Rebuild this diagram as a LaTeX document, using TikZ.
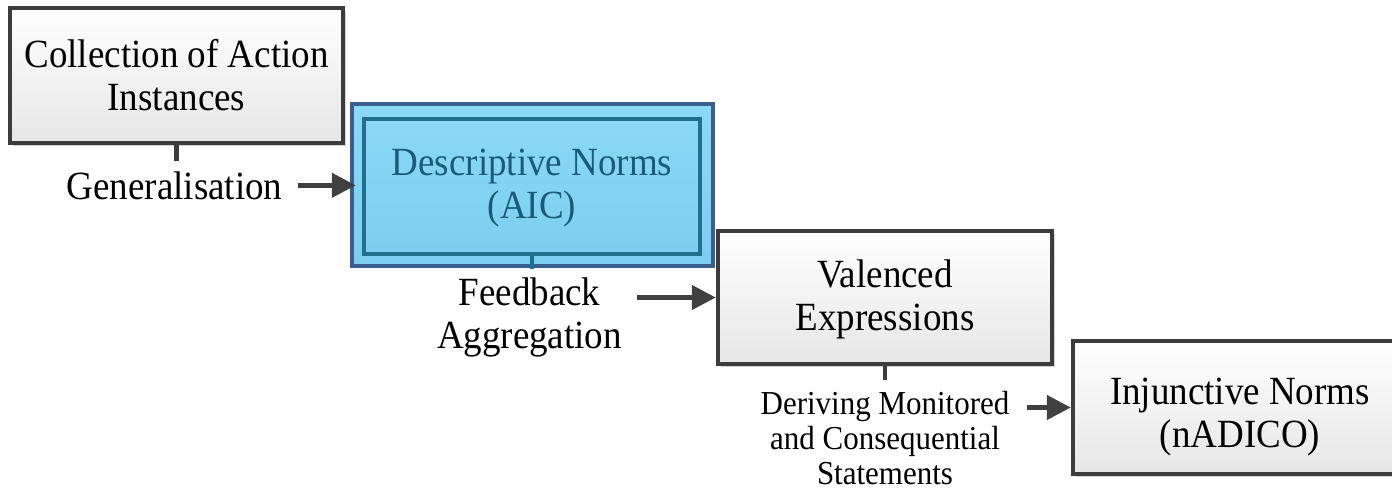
\documentclass[tikz,border=0pt]{standalone}
\usepackage{fontspec}
\setmainfont{Liberation Serif}[FakeStretch=0.925]
\usetikzlibrary{arrows.meta,shadows}
\definecolor{boxline}{HTML}{3C3C3C}
\definecolor{boxbot}{HTML}{E6E6E6}
\definecolor{blueout}{HTML}{3A5E8E}
\definecolor{bluein}{HTML}{1F6F8E}
\definecolor{bluetop}{HTML}{8CD9F6}
\definecolor{bluebot}{HTML}{7BCDEF}
\definecolor{bluetext}{HTML}{1A5C78}
\definecolor{arrowc}{HTML}{404040}
\tikzset{
  graybox/.style={draw=boxline, line width=4.5pt, rectangle, top color=white, bottom color=boxbot,
    drop shadow={shadow xshift=3pt, shadow yshift=-3pt, opacity=0.18, fill=black}},
  blueouter/.style={draw=blueout, line width=4.5pt, rectangle, top color=bluetop, bottom color=bluebot},
  blueinner/.style={draw=bluein, line width=4pt, rectangle},
  bigtxt/.style={align=center, font=\fontsize{40}{42.5}\selectfont, inner xsep=15pt, inner ysep=10pt},
  smalltxt/.style={align=center, font=\fontsize{33.5}{35}\selectfont, inner xsep=17pt, inner ysep=16pt},
  conn/.style={draw=boxline, line width=4.5pt},
  arr/.style={draw=arrowc, line width=4.5pt, -{Triangle[length=24pt,width=24pt]}},
}
\begin{document}
\begin{tikzpicture}[x=1pt,y=-1pt]
\useasboundingbox (0,0) rectangle (1392,490);
\clip (0,0) rectangle (1392,490);
% boxes
\node[graybox, minimum width=333pt, minimum height=135pt] (coll) at (176.5,75.5) {};
\node[blueouter, minimum width=361pt, minimum height=162pt] (desc) at (532.5,185) {};
\node[blueinner, minimum width=336pt, minimum height=135pt] (descin) at (532,186.5) {};
\node[graybox, minimum width=334pt, minimum height=133pt] (val) at (885,297.5) {};
\node[graybox, minimum width=334pt, minimum height=133pt] (inj) at (1240,407.5) {};
% box texts (base anchor = baseline of last line)
\node[bigtxt, anchor=base] (collt) at (176.5,110) {Collection of Action\\Instances};
\node[bigtxt, anchor=base, text=bluetext] (desct) at (532,218) {Descriptive Norms\\(AIC)};
\node[bigtxt, anchor=base] (valt) at (885,330) {Valenced\\Expressions};
\node[bigtxt, anchor=base] (injt) at (1240,447) {Injunctive Norms\\(nADICO)};
% step labels
\node[bigtxt, anchor=base] (gen) at (174.5,199) {Generalisation};
\node[bigtxt, anchor=base] (fb) at (529.5,348) {Feedback\\Aggregation};
\node[smalltxt, anchor=base] (der) at (885,484) {Deriving Monitored\\and Consequential\\Statements};
% connectors
\draw[conn] (coll.south) -- (coll.south |- gen.north);
\draw[conn, draw=bluein] (descin.south) -- ++(0,13);
\draw[conn] (val.south) -- ++(0,14);
% arrows
\draw[arr, shorten >=-6pt] (gen.east) -- (gen.east -| desc.west);
\draw[arr] (fb.east |- val.west) -- (val.west);
\draw[arr] (der.east |- inj.west) -- (inj.west);
\end{tikzpicture}
\end{document}
